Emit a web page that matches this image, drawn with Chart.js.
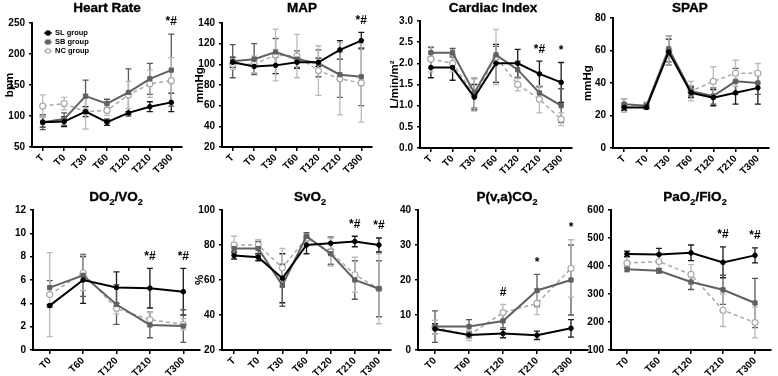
<!DOCTYPE html>
<html>
<head>
<meta charset="utf-8">
<script src="https://cdn.jsdelivr.net/npm/chart.js@4"></script>
<style>
body { margin: 0; background: #fff; width: 778px; height: 376px; position: relative; overflow: hidden; font-family: "Liberation Sans", Arial, sans-serif; }
canvas { position: absolute; }
.ttl { position: absolute; width: 130px; text-align: center; font-weight: bold; font-size: 13.5px; -webkit-text-stroke: 0.35px #000; white-space: nowrap; color: #000; line-height: 16px; }
.ttl sub { font-size: 9px; -webkit-text-stroke: 0.2px #000; }
</style>
</head>
<body>
<script>
// time points
const timesA = ['T', 'T0', 'T30', 'T60', 'T120', 'T210', 'T300'];
const timesB = ['T0', 'T60', 'T120', 'T210', 'T300'];

// Heart Rate (bpm)
const hrSL = [90, 91, 107, 90, 105, 115, 122];
const hrSLsd = [8, 8, 8, 5, 2, 8, 15];
const hrSB = [90, 95, 132, 120, 138, 160, 174];
const hrSBsd = [12, 10, 26, 7, 38, 25, 58];
const hrNC = [116, 120, 107, 109, 134, 152, 157];
const hrNCsd = [18, 10, 28, 8, 22, 22, 37];
const hrMarks = ['', '', '', '', '', '', '*#'];

// MAP (mmHg)
const mapSL = [102, 98, 99, 102, 102, 114, 123];
const mapSLsd = [5, 6, 8, 6, 4, 9, 8];
const mapSB = [103, 105, 112, 105, 101, 90, 88];
const mapSBsd = [16, 15, 13, 8, 13, 22, 28];
const mapNC = [100, 100, 109, 108, 94, 86, 82];
const mapNCsd = [5, 8, 25, 21, 24, 35, 38];
const mapMarks = ['', '', '', '', '', '', '*#'];

// Cardiac Index
const ciSL = [1.9, 1.9, 1.2, 2.0, 2.0, 1.75, 1.55];
const ciSLsd = [0.24, 0.3, 0.3, 0.45, 0.33, 0.3, 0.47];
const ciSB = [2.25, 2.25, 1.3, 2.2, 1.85, 1.3, 1.0];
const ciSBsd = [0.12, 0.1, 0.35, 0.2, 0.2, 0.15, 0.4];
const ciNC = [2.1, 2.0, 1.25, 2.15, 1.5, 1.15, 0.68];
const ciNCsd = [0.3, 0.2, 0.38, 0.65, 0.15, 0.32, 0.15];
const ciMarks = ['', '', '', '', '', '*#', '*'];

// SPAP (mmHg)
const spSL = [25, 25, 59, 34, 31, 34, 37];
const spSLsd = [2, 1, 8, 3, 5, 7, 10];
const spSB = [27, 26, 61, 35, 32, 41, 40];
const spSBsd = [3, 2, 8, 3, 5, 8, 7];
const spNC = [26, 26, 60, 35, 41, 46, 46];
const spNCsd = [4, 2, 9, 6, 9, 8, 6];
const spMarks = ['', '', '', '', '', '', ''];

// DO2/VO2
const doSL = [3.8, 6.0, 5.35, 5.3, 5.0];
const doSLsd = [0.1, 2.0, 1.35, 1.7, 2.0];
const doSB = [5.35, 6.4, 3.9, 2.15, 2.05];
const doSBsd = [0.6, 1.8, 1.7, 1.1, 1.4];
const doNC = [4.75, 6.6, 3.55, 2.6, 2.2];
const doNCsd = [3.6, 1.5, 0.45, 0.6, 0.5];
const doMarks = ['', '', '', '*#', '*#'];

// SvO2 (%)
const svSL = [74, 73, 61, 80, 81, 82, 80];
const svSLsd = [2, 2, 14, 5, 3.5, 3, 4];
const svSB = [78, 78, 57, 85, 75, 60, 55];
const svSBsd = [3, 4, 12, 2, 6, 11, 16];
const svNC = [80, 80, 67, 84, 76, 63, 55];
const svNCsd = [5, 3, 11, 2, 8, 10, 20];
const svMarks = ['', '', '', '', '', '*#', '*#'];

// P(v,a)CO2
const pcSL = [6, 4.3, 4.7, 4.2, 6.2];
const pcSLsd = [1.5, 0.8, 1.2, 1.2, 2.5];
const pcSB = [6.7, 6.7, 8.3, 17, 20];
const pcSBsd = [4.5, 2, 2, 4.6, 10];
const pcNC = [6.5, 4.2, 10.7, 13.3, 23.3];
const pcNCsd = [2, 1.5, 2.3, 3.2, 8.2];
const pcMarks = ['', '', '#', '*', '*'];

// PaO2/FiO2
const pfSL = [443, 441, 447, 413, 438];
const pfSLsd = [10, 22, 28, 55, 27];
const pfSB = [388, 383, 343, 315, 268];
const pfSBsd = [8, 8, 27, 52, 88];
const pfNC = [410, 416, 370, 242, 198];
const pfNCsd = [30, 30, 35, 58, 55];
const pfMarks = ['', '', '', '*#', '*#'];

const FONT = '"Liberation Sans", Arial, sans-serif';

// error bars + significance marks
const errorBars = {
  id: 'errorBars',
  beforeDatasetsDraw(chart) {
    const ctx = chart.ctx, y = chart.scales.y;
    chart.data.datasets.forEach((ds, i) => {
      const meta = chart.getDatasetMeta(i);
      ctx.save();
      ctx.strokeStyle = ds.errColor;
      ctx.lineWidth = 1.3;
      meta.data.forEach((pt, j) => {
        const v = ds.data[j], e = ds.sd[j];
        const top = y.getPixelForValue(v + e), bot = y.getPixelForValue(v - e);
        ctx.beginPath();
        ctx.moveTo(pt.x, top); ctx.lineTo(pt.x, bot);
        ctx.moveTo(pt.x - 3, top); ctx.lineTo(pt.x + 3, top);
        ctx.moveTo(pt.x - 3, bot); ctx.lineTo(pt.x + 3, bot);
        ctx.stroke();
      });
      ctx.restore();
    });
  },
  afterDatasetsDraw(chart, args, opts) {
    const marks = opts.marks || [];
    const ctx = chart.ctx, y = chart.scales.y, x = chart.scales.x;
    ctx.save();
    ctx.fillStyle = '#000';
    ctx.font = 'bold 12px ' + FONT;
    ctx.textAlign = 'center';
    ctx.textBaseline = 'middle';
    marks.forEach((m, j) => {
      if (!m) return;
      let top = Infinity;
      chart.data.datasets.forEach(ds => {
        top = Math.min(top, y.getPixelForValue(ds.data[j] + ds.sd[j]));
      });
      ctx.fillText(m, x.getPixelForValue(j), top - 12);
    });
    ctx.restore();
  }
};

// legend inside the Heart Rate panel
const innerLegend = {
  id: 'innerLegend',
  afterDraw(chart, args, opts) {
    if (!opts.show) return;
    const ctx = chart.ctx;
    const names = ['SL group', 'SB group', 'NC group'];
    ctx.save();
    ctx.font = 'bold 7.5px ' + FONT;
    ctx.textBaseline = 'middle';
    chart.data.datasets.forEach((ds, i) => {
      const cx = 48, cy = 33 + i * 9;
      ctx.strokeStyle = ds.borderColor;
      ctx.lineWidth = 1.2;
      ctx.setLineDash([]);
      ctx.beginPath(); ctx.moveTo(cx - 4, cy); ctx.lineTo(cx + 4, cy); ctx.stroke();
      ctx.fillStyle = ds.pointBackgroundColor;
      ctx.beginPath();
      if (ds.pointStyle === 'rect') ctx.rect(cx - 2, cy - 2, 4, 4);
      else ctx.arc(cx, cy, 2.2, 0, Math.PI * 2);
      ctx.fill(); ctx.stroke();
      ctx.fillStyle = '#000';
      ctx.fillText(names[i], cx + 7, cy);
    });
    ctx.restore();
  }
};

function series(sl, slSd, sb, sbSd, nc, ncSd) {
  return [
    { label: 'SL group', data: sl, sd: slSd, borderColor: '#000', borderWidth: 2,
      pointStyle: 'circle', pointRadius: 2.3, pointBorderWidth: 1, pointBackgroundColor: '#000', pointBorderColor: '#000',
      errColor: '#1a1a1a', tension: 0 },
    { label: 'SB group', data: sb, sd: sbSd, borderColor: '#616161', borderWidth: 2,
      pointStyle: 'rect', pointRadius: 3, pointBorderWidth: 1, pointBackgroundColor: '#616161', pointBorderColor: '#616161',
      errColor: '#585858', tension: 0 },
    { label: 'NC group', data: nc, sd: ncSd, borderColor: '#a9a9a9', borderWidth: 1.5, borderDash: [4, 3],
      pointStyle: 'circle', pointRadius: 3, pointBackgroundColor: '#fff', pointBorderColor: '#a9a9a9',
      pointBorderWidth: 1.2, errColor: '#bababa', tension: 0 }
  ];
}

function makeChart(p) {
  const cv = document.createElement('canvas');
  const w = p.right - p.left + 6;
  cv.width = w; cv.height = p.h;
  cv.style.left = p.left + 'px'; cv.style.top = p.top + 'px';
  document.body.appendChild(cv);

  const ttl = document.createElement('div');
  ttl.className = 'ttl';
  ttl.innerHTML = p.title;
  ttl.style.left = (p.titleX - 65) + 'px';
  ttl.style.top = p.titleY + 'px';
  document.body.appendChild(ttl);

  new Chart(cv, {
    type: 'line',
    data: { labels: p.labels, datasets: p.datasets },
    options: {
      responsive: false,
      animation: false,
      devicePixelRatio: 1,
      layout: { padding: { top: p.areaTop, right: 6, left: 0, bottom: 0 } },
      plugins: {
        legend: { display: false },
        tooltip: { enabled: false },
        errorBars: { marks: p.marks },
        innerLegend: { show: !!p.legend }
      },
      scales: {
        x: {
          offset: true,
          grid: { drawOnChartArea: false, drawTicks: true, tickLength: 4, color: '#000', lineWidth: 1.5 },
          border: { color: '#000', width: 2 },
          ticks: { color: '#000', font: { weight: 'bold', size: 10, family: FONT },
                   maxRotation: 45, minRotation: 45, padding: 1, autoSkip: false },
          afterFit(s) { s.height = p.h - p.areaBottom; }
        },
        y: {
          min: p.min, max: p.max,
          grid: { drawOnChartArea: false, drawTicks: true, tickLength: 3, color: '#000', lineWidth: 1.5 },
          border: { color: '#000', width: 2 },
          ticks: { color: '#000', stepSize: p.step, padding: 4,
                   font: { weight: 'bold', size: 10, family: FONT },
                   callback: v => p.dec ? v.toFixed(p.dec) : v },
          title: { display: !!p.unit, text: p.unit, color: '#000', padding: { top: 3, bottom: 2 },
                   font: { weight: 'bold', size: 11.5, family: FONT } },
          afterFit(s) { s.width = p.axisX - p.left; }
        }
      }
    },
    plugins: [errorBars, innerLegend]
  });
}

const panels = [
  { title: 'Heart Rate', titleX: 107, titleY: 0, left: 0, axisX: 32, right: 182, top: 0, h: 190,
    areaTop: 23, areaBottom: 147, min: 50, max: 250, step: 50, unit: 'bpm', labels: timesA,
    datasets: series(hrSL, hrSLsd, hrSB, hrSBsd, hrNC, hrNCsd), marks: hrMarks, legend: true },
  { title: 'MAP', titleX: 302, titleY: 0, left: 190, axisX: 222, right: 372, top: 0, h: 190,
    areaTop: 23, areaBottom: 147, min: 20, max: 140, step: 20, unit: 'mmHg', labels: timesA,
    datasets: series(mapSL, mapSLsd, mapSB, mapSBsd, mapNC, mapNCsd), marks: mapMarks },
  { title: 'Cardiac Index', titleX: 493, titleY: 0, left: 385, axisX: 420, right: 572, top: 0, h: 190,
    areaTop: 21, areaBottom: 148, min: 0, max: 3, step: 0.5, dec: 1, unit: 'L/min/m²', labels: timesA,
    datasets: series(ciSL, ciSLsd, ciSB, ciSBsd, ciNC, ciNCsd), marks: ciMarks },
  { title: 'SPAP', titleX: 690, titleY: 0, left: 578, axisX: 613, right: 769, top: 0, h: 190,
    areaTop: 18, areaBottom: 148, min: 0, max: 80, step: 20, unit: 'mmHg', labels: timesA,
    datasets: series(spSL, spSLsd, spSB, spSBsd, spNC, spNCsd), marks: spMarks },
  { title: 'DO<sub>2</sub>/VO<sub>2</sub>', titleX: 116, titleY: 189, left: 0, axisX: 33, right: 200, top: 190, h: 186,
    areaTop: 20, areaBottom: 160, min: 0, max: 12, step: 2, unit: '', labels: timesB,
    datasets: series(doSL, doSLsd, doSB, doSBsd, doNC, doNCsd), marks: doMarks },
  { title: 'SvO<sub>2</sub>', titleX: 310, titleY: 189, left: 190, axisX: 222, right: 391, top: 190, h: 186,
    areaTop: 20, areaBottom: 160, min: 20, max: 100, step: 20, unit: '%', labels: timesA,
    datasets: series(svSL, svSLsd, svSB, svSBsd, svNC, svNCsd), marks: svMarks },
  { title: 'P(v,a)CO<sub>2</sub>', titleX: 507, titleY: 189, left: 385, axisX: 418, right: 588, top: 190, h: 186,
    areaTop: 20, areaBottom: 160, min: 0, max: 40, step: 10, unit: '', labels: timesB,
    datasets: series(pcSL, pcSLsd, pcSB, pcSBsd, pcNC, pcNCsd), marks: pcMarks },
  { title: 'PaO<sub>2</sub>/FiO<sub>2</sub>', titleX: 695, titleY: 189, left: 578, axisX: 611, right: 771, top: 190, h: 186,
    areaTop: 20, areaBottom: 160, min: 100, max: 600, step: 100, unit: '', labels: timesB,
    datasets: series(pfSL, pfSLsd, pfSB, pfSBsd, pfNC, pfNCsd), marks: pfMarks }
];

panels.forEach(makeChart);
</script>
</body>
</html>
